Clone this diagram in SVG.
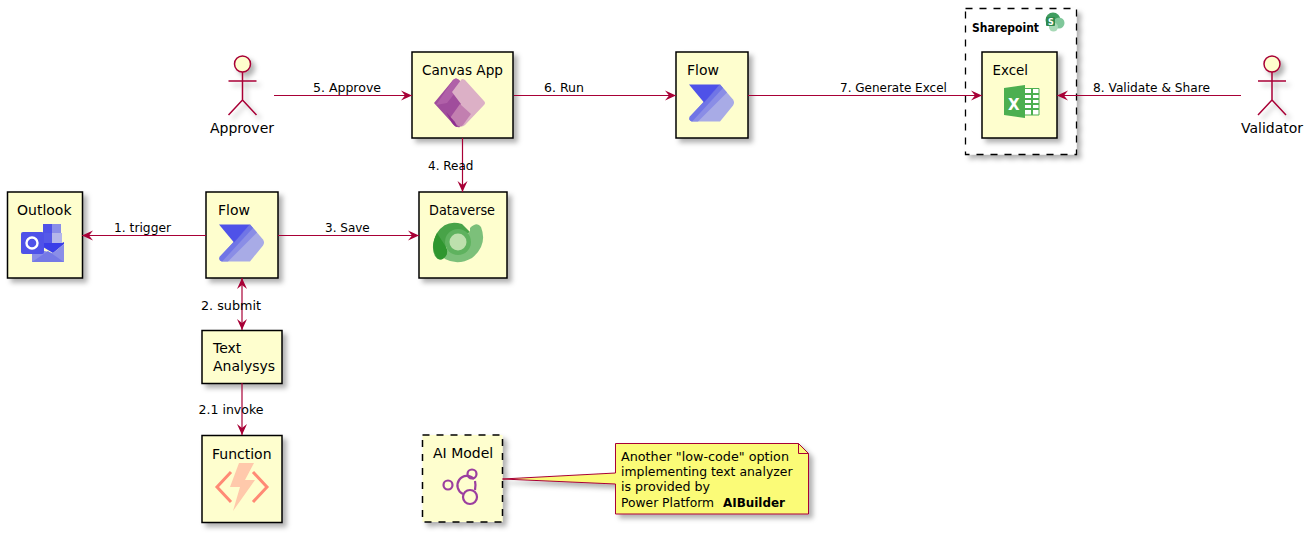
<svg xmlns="http://www.w3.org/2000/svg" xmlns:xlink="http://www.w3.org/1999/xlink" width="1309" height="533" viewBox="0 0 1309 533">
<style>
text{font-family:"DejaVu Sans","Liberation Sans",sans-serif;fill:#000}
.t{font-size:14px}
.l{font-size:12px}
.n{font-size:12px}
.box{fill:#FEFECE;stroke:#000;stroke-width:1.5}
.dash{stroke-dasharray:7 7}
.act{fill:none;stroke:#A80036;stroke-width:1.5}
.c{fill:none;stroke:#A80036;stroke-width:1.2}
.sh{filter:url(#s)}
</style>
<defs>
<filter id="s" x="-20%" y="-20%" width="150%" height="150%"><feDropShadow dx="4" dy="4" stdDeviation="2.5" flood-color="#000" flood-opacity="0.3"/></filter>
<marker id="a" markerUnits="userSpaceOnUse" markerWidth="13" markerHeight="12" refX="11.500" refY="6" orient="auto-start-reverse"><path d="M11.500 6L0.500 1L4.500 6L0.500 11Z" fill="#A80036"/></marker>
<g id="flowicon">
<path d="M31 0L44 15Q46 18 44 21L31 37L3 37Q-1 36 1 32Z" fill="#a8abe6"/>
<path d="M31 0L38 8L9 37L3 37Q-1 36 1 32Z" fill="#8a8de6"/>
<path d="M31 0L34 3.500L5 35L3 37Q-1 36 1 32Z" fill="#7075e6"/>
<path d="M0 0H31L15 18Z" fill="#4f52e8"/>
</g>
<g id="actor">
<circle cx="0" cy="0" r="8" fill="#FEFECE" stroke="#A80036" stroke-width="1.5"/>
<path class="act" d="M0 8V36M-14 17H14M0 36L-14 51M0 36L14 51"/>
</g>
</defs>
<g id="approver">
<use xlink:href="#actor" href="#actor" x="242.500" y="64" class="sh"/>
<text class="t" x="242" y="133" text-anchor="middle">Approver</text>
</g>
<g id="validator">
<use xlink:href="#actor" href="#actor" x="1272" y="64" class="sh"/>
<text class="t" x="1272" y="133" text-anchor="middle">Validator</text>
</g>
<g id="canvas-app">
<rect class="box sh" x="412" y="52" width="101" height="86"/>
<text class="t" x="422" y="75" textLength="81" lengthAdjust="spacingAndGlyphs">Canvas App</text>
<path d="M434 103L453 80Q456 77 459 80L472 95L462 112L460 127Q457 128 454 125Z" fill="#a04d9c"/>
<path d="M436 105L453 80Q456 77 459 80L462 84L447 103Z" fill="#b060a8"/>
<path d="M452 119L461 104L452 92L461 80Q462 78 465 80L484 101Q486 103 484 105L465 125Q461 128 458 125Z" fill="#dcb0c6"/>
<path d="M460 104L471 114L463 125Q460 128 457 125L450 118Z" fill="#c27fb0"/>
<path d="M446 112L455 122L457 127Q455 127 452 123Z" fill="#8f2f90"/>
</g>
<g id="flow-top">
<rect class="box sh" x="676" y="52" width="72" height="86"/>
<text class="t" x="687" y="75">Flow</text>
<use xlink:href="#flowicon" href="#flowicon" x="689" y="84.500"/>
</g>
<g id="sharepoint">
<rect class="sh" x="965.500" y="8.500" width="111" height="146" fill="#fff" stroke="#000" stroke-width="1.300" stroke-dasharray="7 7"/>
<text x="972" y="32" font-size="12" font-weight="bold" textLength="67" lengthAdjust="spacingAndGlyphs">Sharepoint</text>
<circle cx="1053" cy="20" r="7.500" fill="#3f9d5f"/>
<circle cx="1059" cy="23" r="5.500" fill="#7fc79a"/>
<circle cx="1053.500" cy="27" r="4.500" fill="#a7d9b6"/>
<rect x="1046" y="17" width="9" height="9" rx="1" fill="#2f8a4f"/>
<text x="1048" y="25" font-size="8" font-weight="bold" style="fill:#fff">S</text>
</g>
<g id="excel">
<rect class="box sh" x="982" y="52" width="75" height="86"/>
<text class="t" x="992.500" y="75" textLength="35.500" lengthAdjust="spacingAndGlyphs">Excel</text>
<path d="M1018 88.500H1039V115H1018Z" fill="#fff" stroke="#4caf50" stroke-width="1"/>
<path d="M1032 89V115M1025 94H1039M1025 99H1039M1025 104H1039M1025 109H1039" stroke="#4caf50" fill="none" stroke-width="2"/>
<path d="M1004 88L1025 85V118L1004 115Z" fill="#4caf50"/>
<text x="1008" y="110" font-size="15" font-weight="bold" style="fill:#fff">X</text>
</g>
<g id="outlook">
<rect class="box sh" x="7.500" y="192" width="75" height="86"/>
<text class="t" x="17" y="215">Outlook</text>
<rect x="43" y="224" width="9" height="9" fill="#4f52e8"/>
<rect x="52" y="224" width="9" height="9" fill="#8a8ee8"/>
<rect x="43" y="233" width="9" height="10" fill="#5559e8"/>
<rect x="52" y="233" width="10" height="10" fill="#b4b6ea"/>
<path d="M43 243H62L64 242V244L53 253L43 247Z" fill="#3a3ee8"/>
<path d="M32 248L53 253L64 244V262H32Z" fill="#8a8ee8"/>
<path d="M32 262L48 251L64 262Z" fill="#7579e6"/>
<rect x="21" y="232" width="23" height="22" rx="2" fill="#4f52e8"/>
<circle cx="32" cy="243" r="5.500" fill="none" stroke="#fff" stroke-width="2.400"/>
</g>
<g id="flow">
<rect class="box sh" x="206" y="192" width="72" height="86"/>
<text class="t" x="218" y="215">Flow</text>
<use xlink:href="#flowicon" href="#flowicon" x="219" y="224.500"/>
</g>
<g id="dataverse">
<rect class="box sh" x="419" y="192" width="88" height="86"/>
<text class="t" x="429" y="215" textLength="66" lengthAdjust="spacingAndGlyphs">Dataverse</text>
<path d="M470 228Q477 221 481 227Q488 245 472 258Q458 266 445 259Q440 255 445 250L470 232Z" fill="#7cc07a"/>
<path d="M462 224Q446 219 437 233Q430 246 435 256Q439 262 444 258Q449 254 446 247L470 232Z" fill="#48a348"/>
<path d="M436 256Q430 246 437 233L446 247Q449 254 444 258Q439 262 436 256Z" fill="#2f962f"/>
<circle cx="458" cy="242" r="13" fill="#5fb25f"/>
<circle cx="458" cy="242" r="8.500" fill="#bde0ad"/>
</g>
<g id="text-analysys">
<rect class="box sh" x="202" y="330.500" width="80" height="53"/>
<text class="t" x="213" y="353">Text</text>
<text class="t" x="213" y="371">Analysys</text>
</g>
<g id="function">
<rect class="box sh" x="202" y="435.500" width="80" height="87"/>
<text class="t" x="212" y="459">Function</text>
<path d="M231 472L217 487L231 502M253 472L267 487L253 502" fill="none" stroke="#ff8a75" stroke-width="3"/>
<path d="M239 463H254L245 480H255L233 511L240 487H230Z" fill="#ffc9ab"/>
</g>
<g id="ai-model">
<rect class="box sh dash" x="422.500" y="435" width="80" height="87"/>
<text class="t" x="433" y="458">AI Model</text>
<g fill="none" stroke="#9b3e9f" stroke-width="2.200">
<circle cx="448" cy="485" r="4.500"/>
<circle cx="472" cy="474" r="4.500"/>
<circle cx="470" cy="497" r="7"/>
<path d="M463 494A9.500 9.500 0 1 1 474 479M475 481Q476 485 475 490"/>
</g>
</g>
<g id="note">
<path class="sh" d="M502.500 479L615.500 473V443.500H798.500L808.500 453.500V514H615.500V484Z" fill="#FBFB77" stroke="#A80036"/>
<path d="M798.500 443.500V453.500H808.500" fill="none" stroke="#A80036"/>
<text class="n" x="621" y="461" textLength="168" lengthAdjust="spacingAndGlyphs">Another "low-code" option</text>
<text class="n" x="621" y="476" textLength="171.500" lengthAdjust="spacingAndGlyphs">implementing text analyzer</text>
<text class="n" x="621" y="491" textLength="89" lengthAdjust="spacingAndGlyphs">is provided by</text>
<text class="n" x="621" y="507" textLength="93" lengthAdjust="spacingAndGlyphs">Power Platform</text>
<text class="n" x="723" y="507" font-weight="bold" textLength="62" lengthAdjust="spacingAndGlyphs">AIBuilder</text>
</g>
<g id="connectors">
<path class="c" marker-end="url(#a)" d="M274 95.500H412"/>
<path class="c" marker-end="url(#a)" d="M514 95.500H676"/>
<path class="c" marker-end="url(#a)" d="M748 95.500H982"/>
<path class="c" marker-end="url(#a)" d="M1241 95.500H1057"/>
<path class="c" marker-end="url(#a)" d="M206 235.500H82"/>
<path class="c" marker-end="url(#a)" d="M278 235.500H419"/>
<path class="c" marker-end="url(#a)" d="M462.500 138V192"/>
<path class="c" marker-start="url(#a)" marker-end="url(#a)" d="M242 278V330"/>
<path class="c" marker-end="url(#a)" d="M242 383V435"/>
<text class="l" x="313" y="92" textLength="68" lengthAdjust="spacingAndGlyphs">5. Approve</text>
<text class="l" x="544" y="92" textLength="40" lengthAdjust="spacingAndGlyphs">6. Run</text>
<text class="l" x="840" y="92">7. Generate Excel</text>
<text class="l" x="1093" y="92" textLength="117" lengthAdjust="spacingAndGlyphs">8. Validate &amp; Share</text>
<text class="l" x="114" y="232" textLength="57" lengthAdjust="spacingAndGlyphs">1. trigger</text>
<text class="l" x="325" y="232">3. Save</text>
<text class="l" x="428" y="170">4. Read</text>
<text class="l" x="201" y="310" textLength="60" lengthAdjust="spacingAndGlyphs">2. submit</text>
<text class="l" x="198.500" y="414" textLength="65" lengthAdjust="spacingAndGlyphs">2.1 invoke</text>
</g>
</svg>
